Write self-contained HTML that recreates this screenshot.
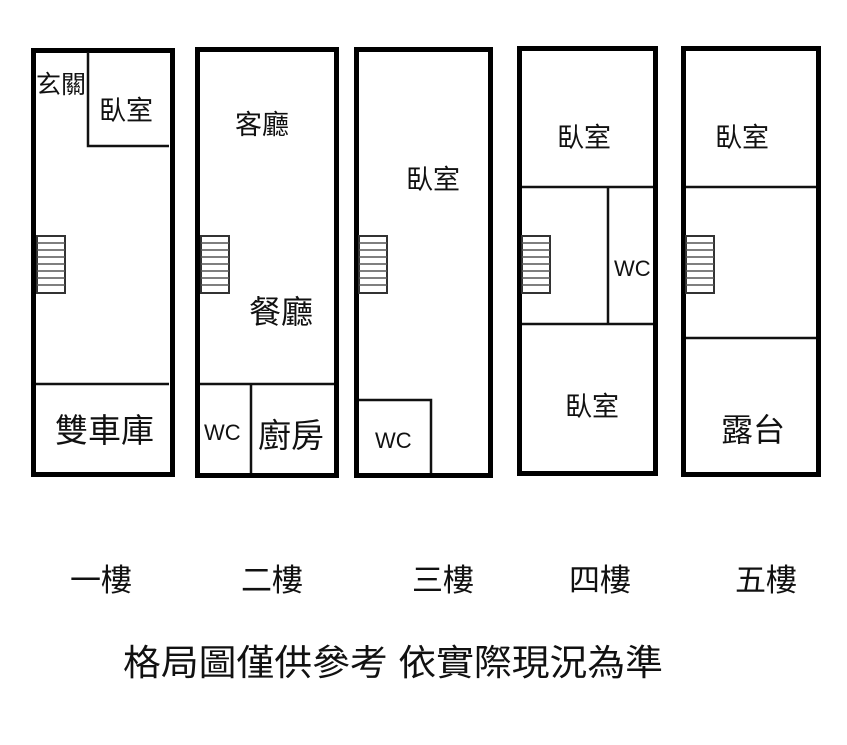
<!DOCTYPE html>
<html><head><meta charset="utf-8"><style>
html,body{margin:0;padding:0;background:#fff;}
svg{display:block;}
text{font-family:"Liberation Sans","Noto Sans CJK TC",sans-serif;fill:#111;}
</style></head><body>
<svg width="847" height="745" viewBox="0 0 847 745" xmlns="http://www.w3.org/2000/svg">
<defs>
<g id="st">
<rect x="0" y="236" width="28" height="57" fill="none" stroke="#333" stroke-width="2"/>
<g stroke="#555" stroke-width="1.5">
<line x1="0" y1="243" x2="28" y2="243"/><line x1="0" y1="250" x2="28" y2="250"/>
<line x1="0" y1="257" x2="28" y2="257"/><line x1="0" y1="264" x2="28" y2="264"/>
<line x1="0" y1="271" x2="28" y2="271"/><line x1="0" y1="278" x2="28" y2="278"/>
<line x1="0" y1="285" x2="28" y2="285"/></g>
</g>
</defs>
<g fill="none" stroke="#000" stroke-width="5">
<rect x="33.5" y="50.5" width="139" height="424"/>
<rect x="197.5" y="49.5" width="139" height="426"/>
<rect x="356.5" y="49.5" width="134" height="426"/>
<rect x="519.5" y="48.5" width="136" height="425"/>
<rect x="683.5" y="48.5" width="135" height="426"/>
</g>
<g stroke="#111" stroke-width="2.5" fill="none">
<polyline points="88,52 88,146 169,146"/>
<line x1="36" y1="384" x2="169" y2="384"/>
<line x1="200" y1="384" x2="334" y2="384"/>
<line x1="251" y1="384" x2="251" y2="473"/>
<polyline points="359,400 431,400 431,473"/>
<line x1="522" y1="187" x2="653" y2="187"/>
<line x1="522" y1="324" x2="653" y2="324"/>
<line x1="608" y1="187" x2="608" y2="324"/>
<line x1="686" y1="187" x2="816" y2="187"/>
<line x1="686" y1="338" x2="816" y2="338"/>
</g>
<use href="#st" x="37"/>
<use href="#st" x="201"/>
<use href="#st" x="359"/>
<use href="#st" x="522"/>
<use href="#st" x="686"/>
<g>
<text x="36" y="93" font-size="25">玄關</text>
<text x="99" y="120" font-size="27">臥室</text>
<text x="235" y="134" font-size="27">客廳</text>
<text x="249" y="323" font-size="32">餐廳</text>
<text x="55" y="442" font-size="33">雙車庫</text>
<text x="204" y="440" font-size="22">WC</text>
<text x="258" y="447" font-size="33">廚房</text>
<text x="406" y="189" font-size="27">臥室</text>
<text x="375" y="448" font-size="22">WC</text>
<text x="557" y="147" font-size="27">臥室</text>
<text x="614" y="276" font-size="22">WC</text>
<text x="565" y="416" font-size="27">臥室</text>
<text x="715" y="147" font-size="27">臥室</text>
<text x="721" y="441" font-size="32">露台</text>
</g>
<g font-size="31">
<text x="70" y="591">一樓</text>
<text x="241" y="591">二樓</text>
<text x="412" y="591">三樓</text>
<text x="569" y="591">四樓</text>
<text x="735" y="591">五樓</text>
</g>
<text x="123" y="675" font-size="36" textLength="540" lengthAdjust="spacingAndGlyphs">格局圖僅供參考 依實際現況為準</text>
</svg>
</body></html>
